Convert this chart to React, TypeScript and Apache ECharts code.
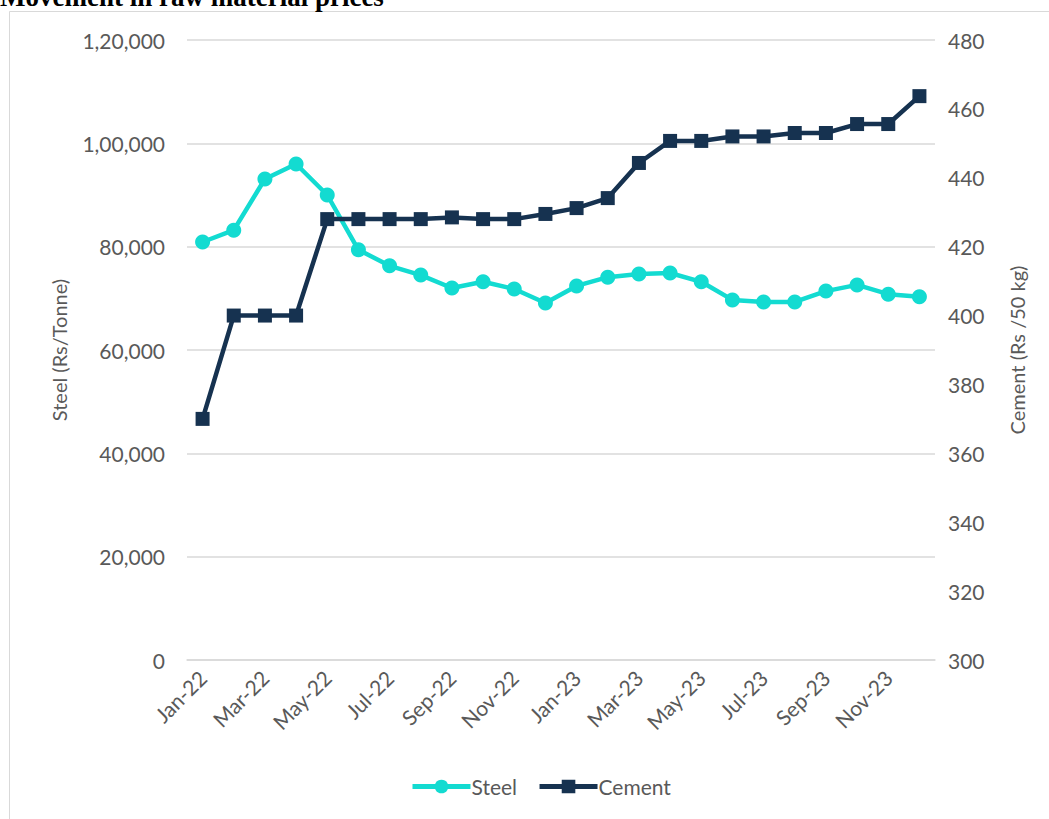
import React, { useEffect, useRef } from "react";
import * as echarts from "echarts";

const months = [
  "Jan-22", "Feb-22", "Mar-22", "Apr-22", "May-22", "Jun-22", "Jul-22", "Aug-22", "Sep-22", "Oct-22", "Nov-22", "Dec-22",
  "Jan-23", "Feb-23", "Mar-23", "Apr-23", "May-23", "Jun-23", "Jul-23", "Aug-23", "Sep-23", "Oct-23", "Nov-23", "Dec-23",
];
const steel = [
  80900, 83200, 93100, 96000, 90000, 79400, 76300, 74500, 72000, 73200, 71800, 69100,
  72400, 74100, 74700, 74900, 73200, 69700, 69300, 69300, 71400, 72600, 70800, 70300,
];
const cement = [
  370, 400, 400, 400, 428, 428, 428, 428, 428.5, 428, 428, 429.5,
  431.2, 434.1, 444.3, 450.7, 450.7, 452, 452, 453, 453, 455.6, 455.6, 463.7,
];

const FONT = "Lato, 'Open Sans', sans-serif";
const GREY = "#595959";

export default function App() {
  const ref = useRef<HTMLDivElement>(null);
  useEffect(() => {
    if (!ref.current) return;
    const chart = echarts.init(ref.current, null, { renderer: "svg" });
    chart.setOption({
      animation: false,
      backgroundColor: "#ffffff",
      textStyle: { fontFamily: FONT },
      graphic: [
        {
          type: "rect",
          shape: { x: 9.5, y: 11.5, width: 1200, height: 1000 },
          style: { fill: "none", stroke: "#d9d9d9", lineWidth: 1 },
          silent: true,
        },
        {
          type: "text",
          x: 0,
          y: 10,
          style: {
            text: "Movement in raw material prices",
            font: "bold 27px 'Liberation Serif', 'Times New Roman', serif",
            fill: "#000000",
            verticalAlign: "bottom",
          },
        },
      ],
      grid: { left: 187, right: 114, top: 40, bottom: 159, containLabel: false },
      legend: {
        left: 405,
        top: 771,
        itemWidth: 58,
        itemHeight: 17,
        itemGap: 20,
        lineStyle: { width: 5 },
        textStyle: { fontFamily: FONT, fontSize: 21, color: GREY, padding: [0, 0, 0, -4] },
        data: ["Steel", "Cement"],
      },
      xAxis: {
        type: "category",
        data: months,
        boundaryGap: true,
        axisLine: { lineStyle: { color: "#d9d9d9", width: 1.5 } },
        axisTick: { interval: 1, length: 6, lineStyle: { color: "#d9d9d9", width: 1.5 } },
        axisLabel: { interval: 1, rotate: 45, fontSize: 21, color: GREY, fontFamily: FONT, margin: 14 },
        splitLine: { show: false },
      },
      yAxis: [
        {
          type: "value",
          min: 0,
          max: 120000,
          interval: 20000,
          name: "Steel (Rs/Tonne)",
          nameLocation: "middle",
          nameGap: 118,
          nameTextStyle: { fontSize: 20, color: GREY, fontFamily: FONT },
          axisLine: { show: false },
          axisTick: { show: false },
          axisLabel: {
            fontSize: 21,
            color: GREY,
            fontFamily: FONT,
            margin: 22,
            formatter: (v: number) => v.toLocaleString("en-IN"),
          },
          splitLine: { lineStyle: { color: "#d9d9d9", width: 1.5 } },
        },
        {
          type: "value",
          min: 300,
          max: 480,
          interval: 20,
          name: "Cement (Rs /50 kg)",
          nameLocation: "middle",
          nameGap: 72,
          nameTextStyle: { fontSize: 20, color: GREY, fontFamily: FONT },
          axisLine: { show: false },
          axisTick: { show: false },
          axisLabel: { fontSize: 21, color: GREY, fontFamily: FONT, margin: 13 },
          splitLine: { show: false },
        },
      ],
      series: [
        {
          name: "Steel",
          type: "line",
          yAxisIndex: 0,
          data: steel,
          symbol: "circle",
          symbolSize: 15,
          color: "#13DBD1",
          lineStyle: { width: 4.5, color: "#13DBD1" },
          itemStyle: { color: "#13DBD1" },
        },
        {
          name: "Cement",
          type: "line",
          yAxisIndex: 1,
          data: cement,
          symbol: "rect",
          symbolSize: 14,
          color: "#163250",
          lineStyle: { width: 4.5, color: "#163250" },
          itemStyle: { color: "#163250" },
        },
      ],
    });
    return () => chart.dispose();
  }, []);
  return (
    <div
      ref={ref}
      style={{ position: "absolute", left: 0, top: 0, width: 1049, height: 819 }}
    />
  );
}
